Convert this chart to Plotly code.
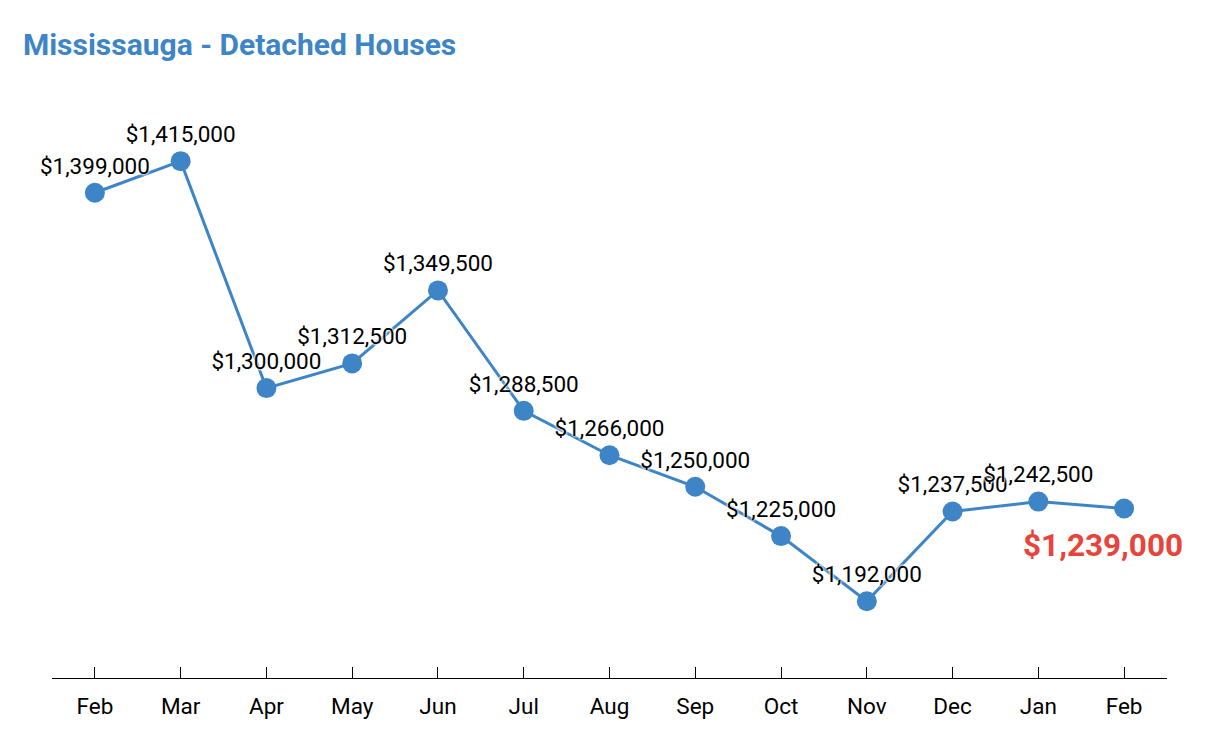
import plotly.graph_objects as go

months = ["Feb", "Mar", "Apr", "May", "Jun", "Jul", "Aug", "Sep", "Oct", "Nov", "Dec", "Jan", "Feb"]
prices = [1399000, 1415000, 1300000, 1312500, 1349500, 1288500, 1266000, 1250000, 1225000, 1192000, 1237500, 1242500, 1239000]
title_text = "Mississauga - Detached Houses"

idx = list(range(len(months)))
labels = ["${:,}".format(p) for p in prices]
line_color = "#3d85c6"

fig = go.Figure()
fig.add_trace(go.Scatter(
    x=idx, y=prices,
    mode="lines+markers+text",
    line=dict(color=line_color, width=3),
    marker=dict(color=line_color, size=20),
    text=labels[:-1] + [""],
    textposition="top center",
    textfont=dict(family="Roboto", size=22.5, color="black",
                  shadow="0px 0px 3px white, 0px 0px 3px white, 0px 0px 2px white"),
    hoverinfo="skip",
    cliponaxis=False,
))

fig.add_annotation(
    x=idx[-1], y=prices[-1], text="<b>" + labels[-1] + "</b>",
    showarrow=False, xshift=-21, yshift=-37,
    font=dict(family="Roboto", size=31.5, color="#e8443a"),
)

fig.update_layout(
    width=1205, height=743,
    paper_bgcolor="white", plot_bgcolor="white",
    margin=dict(l=52, r=38, t=100, b=65),
    showlegend=False,
    title=dict(text="<b>" + title_text + "</b>", x=0.019, xanchor="left", y=0.94, yanchor="middle",
               font=dict(family="Roboto", size=30, color=line_color)),
    xaxis=dict(
        range=[-0.5, 12.5], tickmode="array", tickvals=idx, ticktext=months,
        showgrid=False, zeroline=False, showline=True, linecolor="black", linewidth=1,
        ticks="inside", ticklen=11, tickcolor="black", tickwidth=1,
        ticklabelstandoff=8,
        tickfont=dict(family="Roboto", size=22.5, color="black"),
    ),
    yaxis=dict(range=[1153100, 1446000], visible=False, showgrid=False, zeroline=False),
)

fig.write_html("out.html", config={"displayModeBar": False},
               post_script="document.body.style.margin='0';document.body.style.overflow='hidden';")
